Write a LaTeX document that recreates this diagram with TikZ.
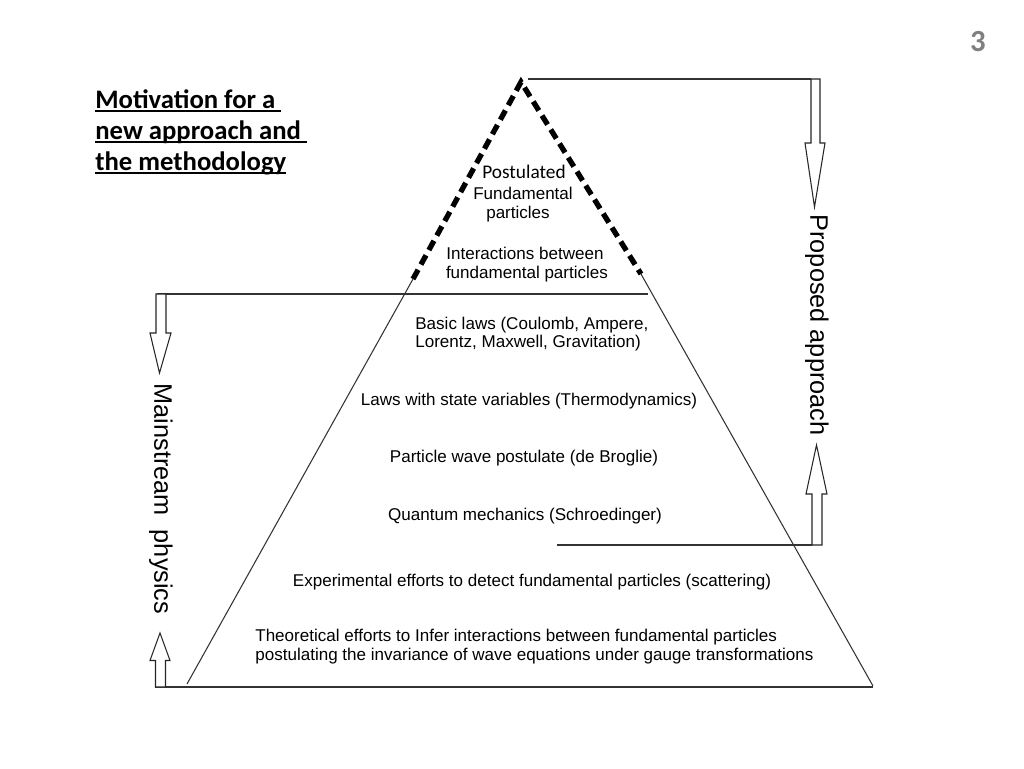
\documentclass[tikz,border=0pt]{standalone}
\usepackage{fontspec}
\setmainfont{Liberation Sans}
\newfontfamily\calibri{Carlito}
\newcommand\myul[1]{\setbox0=\hbox{#1}\rlap{\rule[-2.3pt]{\wd0}{1pt}}\box0}
\begin{document}
\begin{tikzpicture}[x=0.02cm,y=-0.02cm,
  thin line/.style={draw=black!80,line width=0.6pt},
  dash edge/.style={draw=black,line width=3pt,dash pattern=on 6pt off 3.4pt},
  hollow arrow/.style={draw=black!85,line width=0.6pt,fill=white,line join=miter},
  label/.style={inner sep=0pt,font=\fontsize{9.7}{11}\selectfont},
  labelL/.style={label,anchor=base west},
  labelC/.style={label,anchor=base},
  side/.style={inner sep=0pt,font=\fontsize{14.4}{16}\selectfont,rotate=-90},
  title/.style={inner sep=0pt,anchor=base west,font=\calibri\bfseries\fontsize{15.2}{18}\selectfont}]
\useasboundingbox (0,0) rectangle (1024,768);
\fill[white] (0,0) rectangle (1024,768);

% pyramid coordinates
\coordinate (apex) at (521,82);
\coordinate (dl) at (413,279);
\coordinate (dr) at (641,274);
\coordinate (bl) at (187,684);
\coordinate (br) at (873,686);

% dashed top and solid edges
\draw[dash edge] (dl) -- (apex) -- (dr);
\draw[thin line] (dl) -- (bl);
\draw[thin line] (dr) -- (br);

% horizontal lines
\coordinate (hL) at (157,294);
\coordinate (hR) at (648,294);
\draw[thin line] (hL) -- (hR);
\coordinate (bL) at (155,687);
\coordinate (bR) at (873,687);
\draw[thin line] (bL) -- (bR);
\coordinate (tL) at (528,79);
\coordinate (tR) at (811,79);
\draw[thin line] (tL) -- (tR);
\coordinate (mL) at (557,545);
\coordinate (mR) at (812,545);
\draw[thin line] (mL) -- (mR);

% left arrows (mainstream physics)
\draw[hollow arrow] (156,294) -- (166,294) -- (166,333) -- (171,333) -- (159.5,373) -- (150,333) -- (156,333) -- cycle;
\draw[hollow arrow] (155.5,687) -- (165.5,687) -- (165.5,660.5) -- (170,660.5) -- (160,633) -- (150,660.5) -- (155.5,660.5) -- cycle;

% right arrows (proposed approach)
\draw[hollow arrow] (811,79) -- (820,79) -- (820,143) -- (825,143) -- (814.5,207) -- (805,143) -- (811,143) -- cycle;
\draw[hollow arrow] (812,545) -- (822,545) -- (822,494) -- (827,494) -- (816.5,445) -- (806,494) -- (812,494) -- cycle;

% side labels
\node[side] (prop) at (817,325) {Proposed approach};
\node[side] (main) at (161,499) {Mainstream\ \ physics};

% title
\node[title] (t1) at (95,108) {\myul{Motivation for a\ }};
\node[title] (t2) at (95,139) {\myul{new approach and\ }};
\node[title] (t3) at (95,170) {\myul{the methodology}};

% page number
\node[inner sep=0pt,anchor=base,text=black!50,font=\calibri\bfseries\fontsize{17.5}{20}\selectfont] (num) at (978,51) {3};

% pyramid texts
\node[labelC,font=\calibri\fontsize{11}{13}\selectfont] (p1) at (524,178) {Postulated};
\node[labelC] (p2) at (523,199) {Fundamental};
\node[labelC] (p3) at (518,218) {particles};
\node[labelC] (i1) at (525,259) {Interactions between};
\node[labelC] (i2) at (527,278) {fundamental particles};
\node[labelL] (b1) at (415,329) {Basic laws (Coulomb, Ampere,};
\node[labelL] (b2) at (415,347) {Lorentz, Maxwell, Gravitation)};
\node[labelC] (l1) at (529,405) {Laws with state variables (Thermodynamics)};
\node[labelC] (w1) at (524,462) {Particle wave postulate (de Broglie)};
\node[labelC] (q1) at (525,520) {Quantum mechanics (Schroedinger)};
\node[labelC] (e1) at (532,586) {Experimental efforts to detect fundamental particles (scattering)};
\node[labelL] (th1) at (255,641) {Theoretical efforts to Infer interactions between fundamental particles};
\node[labelL] (th2) at (255,660) {postulating the invariance of wave equations under gauge transformations};
\end{tikzpicture}
\end{document}
